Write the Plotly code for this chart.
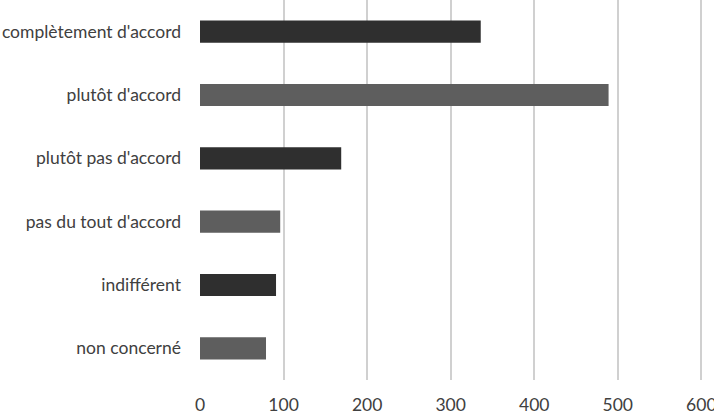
import plotly.graph_objects as go

categories = ["complètement d'accord", "plutôt d'accord", "plutôt pas d'accord",
              "pas du tout d'accord", "indifférent", "non concerné"]
values = [336, 489, 169, 96, 91, 79]
bar_colors = ["#2f2f2f", "#5e5e5e", "#2f2f2f", "#5e5e5e", "#2f2f2f", "#5e5e5e"]
x_ticks = [0, 100, 200, 300, 400, 500, 600]

fig = go.Figure()

fig.add_trace(go.Bar(
    x=values, y=categories,
    orientation='h',
    marker=dict(color=bar_colors, line=dict(width=0)),
    hoverinfo='x+y'
))

fig.update_layout(
    width=714, height=411,
    margin=dict(l=200, r=11, t=0, b=31),
    paper_bgcolor='white',
    plot_bgcolor='white',
    bargap=0.65,
    showlegend=False,
    font=dict(family='Lato, Open Sans, sans-serif', size=17.5, color='#404040'),
    xaxis=dict(
        range=[0, 602], tickvals=x_ticks,
        showgrid=True, gridcolor='#d0d0d0', gridwidth=1.5,
        zeroline=False, showline=False, ticks='',
        ticklabelstandoff=12, automargin=False,
        ticklabeloverflow='allow',
    ),
    yaxis=dict(
        autorange='reversed',
        showgrid=False, zeroline=False, showline=False, ticks='',
        ticklabelstandoff=18, automargin=False,
    ),
)

# drop the default page margin so the chart sits at the window's top-left
fig.write_html("out.html", config={'displayModeBar': False},
               post_script="document.body.style.margin='0';")
